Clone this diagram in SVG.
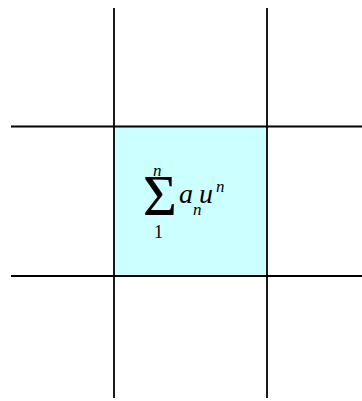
<svg xmlns="http://www.w3.org/2000/svg" width="362" height="401" viewBox="0 0 362 401">
<style>
.ln{stroke:#000;stroke-width:1.8;fill:none}
.it{font-family:"Liberation Serif",serif;font-style:italic;fill:#000}
.rm{font-family:"Liberation Serif",serif;fill:#000}
</style>
<rect width="362" height="401" fill="#fff"/>
<g id="cell">
<rect x="114" y="126.5" width="153" height="149.5" fill="#ccffff"/>
</g>
<g id="connectors">
<line class="ln" x1="11" y1="126.5" x2="362" y2="126.5"/>
<line class="ln" x1="11" y1="276" x2="362" y2="276"/>
<line class="ln" x1="114" y1="8" x2="114" y2="398"/>
<line class="ln" x1="267" y1="8" x2="267" y2="398"/>
</g>
<g id="formula">
<text class="rm" x="143" y="215" font-size="58" stroke="#000" stroke-width="0.25">Σ</text>
<text class="it" x="153" y="176" font-size="17">n</text>
<text class="rm" x="154" y="238" font-size="18">1</text>
<text class="it" x="179" y="203" font-size="28">a</text>
<text class="it" x="193" y="215" font-size="17">n</text>
<text class="it" x="199" y="203" font-size="28">u</text>
<text class="it" x="216" y="192" font-size="17">n</text>
</g>
</svg>
